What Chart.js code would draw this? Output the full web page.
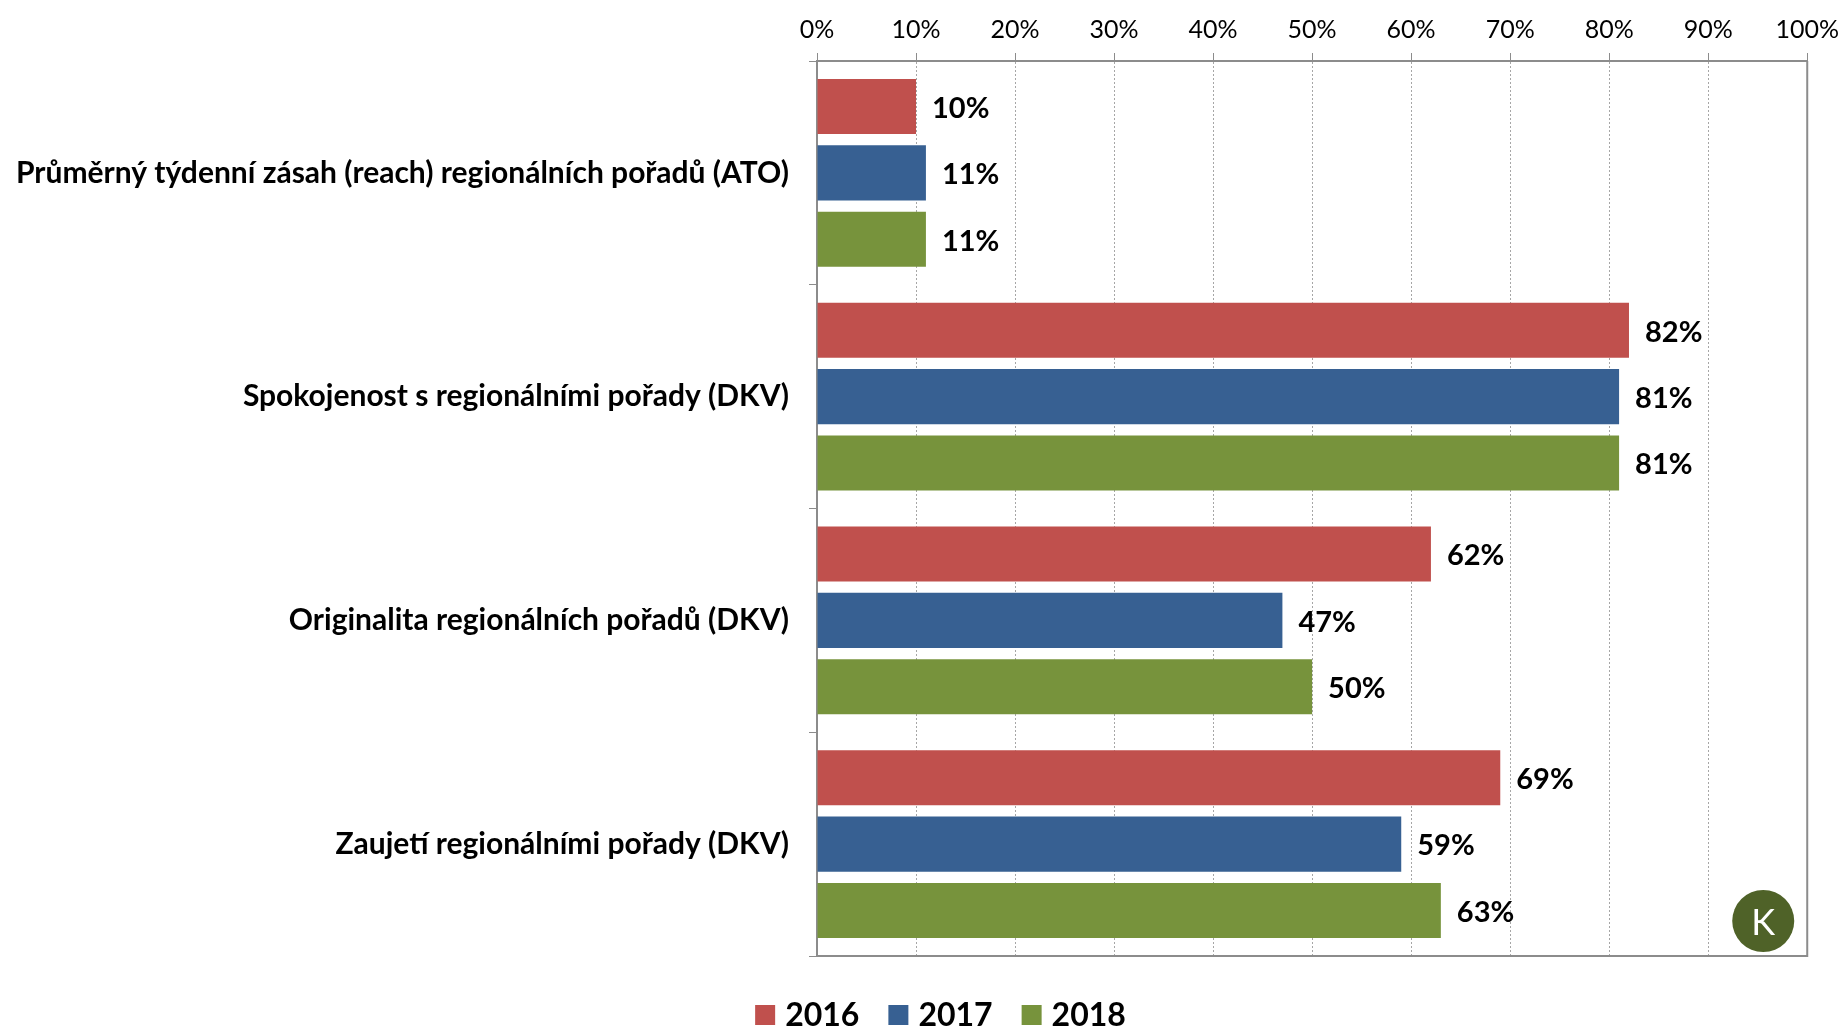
<!DOCTYPE html>
<html>
<head>
<meta charset="utf-8">
<script src="https://cdn.jsdelivr.net/npm/chart.js@4.4.0/dist/chart.umd.min.js"></script>
<style>
  html, body { margin: 0; padding: 0; background: #fff; }
  #wrap { position: relative; width: 1847px; height: 1029px; }
</style>
</head>
<body>
<div id="wrap"><canvas id="chart" width="1847" height="1029"></canvas></div>
<script>
const categories = [
    'Průměrný týdenní zásah (reach) regionálních pořadů (ATO)',
    'Spokojenost s regionálními pořady (DKV)',
    'Originalita regionálních pořadů (DKV)',
    'Zaujetí regionálními pořady (DKV)'
];
const years = ['2016', '2017', '2018'];
const values2016 = [10, 82, 62, 69];
const values2017 = [11, 81, 47, 59];
const values2018 = [11, 81, 50, 63];
const colors = ['#C0504D', '#376092', '#77933C'];
const FONT = 'Lato, "Open Sans", sans-serif';

// labels right of each bar
const valueLabels = {
    id: 'valueLabels',
    afterDatasetsDraw(chart) {
        const ctx = chart.ctx;
        ctx.save();
        ctx.font = `bold 29px ${FONT}`;
        ctx.fillStyle = '#000';
        ctx.textAlign = 'left';
        ctx.textBaseline = 'middle';
        chart.data.datasets.forEach((ds, i) => {
            chart.getDatasetMeta(i).data.forEach((bar, j) => {
                ctx.fillText(ds.data[j] + '%', bar.x + 16, bar.y + 2);
            });
        });
        ctx.restore();
    }
};

// right + bottom frame and the round K badge
const frame = {
    id: 'frame',
    afterDraw(chart) {
        const { ctx, chartArea: a } = chart;
        ctx.save();
        ctx.strokeStyle = '#8c8c8c';
        ctx.lineWidth = 2;
        ctx.beginPath();
        ctx.moveTo(a.right, a.top);
        ctx.lineTo(a.right, a.bottom);
        ctx.lineTo(a.left, a.bottom);
        ctx.stroke();

        const cx = a.right - 44, cy = a.bottom - 35;
        ctx.fillStyle = '#4F6228';
        ctx.beginPath();
        ctx.arc(cx, cy, 31, 0, Math.PI * 2);
        ctx.fill();
        ctx.fillStyle = '#fff';
        ctx.font = `36px ${FONT}`;
        ctx.textAlign = 'center';
        ctx.textBaseline = 'middle';
        ctx.fillText('K', cx, cy + 2);
        ctx.restore();
    }
};

// legend under the plot, boxes close to the text like the original
const bottomLegend = {
    id: 'bottomLegend',
    afterDraw(chart) {
        const ctx = chart.ctx;
        const box = 20, gap = 10, spacing = 29;
        ctx.save();
        ctx.font = `bold 32px ${FONT}`;
        const items = chart.data.datasets.map(ds => ({
            text: ds.label, color: ds.backgroundColor, w: ctx.measureText(ds.label).width
        }));
        const total = items.reduce((s, it) => s + box + gap + it.w, 0) + spacing * (items.length - 1);
        let x = chart.width / 2 + 17 - total / 2;
        const y = chart.chartArea.bottom + 59;
        ctx.textAlign = 'left';
        ctx.textBaseline = 'middle';
        items.forEach(it => {
            ctx.fillStyle = it.color;
            ctx.fillRect(x, y - box / 2, box, box);
            ctx.fillStyle = '#000';
            ctx.fillText(it.text, x + box + gap, y + 1);
            x += box + gap + it.w + spacing;
        });
        ctx.restore();
    }
};

const datasets = [values2016, values2017, values2018].map((vals, i) => ({
    label: years[i],
    data: vals,
    backgroundColor: colors[i],
    borderWidth: 0,
    categoryPercentage: 0.89,
    barPercentage: 0.83
}));

new Chart(document.getElementById('chart'), {
    type: 'bar',
    data: { labels: categories, datasets },
    options: {
        indexAxis: 'y',
        responsive: false,
        animation: false,
        events: [],
        layout: { padding: { left: 0, right: 39, top: 0, bottom: 73 } },
        scales: {
            x: {
                position: 'top',
                min: 0,
                max: 100,
                afterFit: s => { s.height = 61; },
                ticks: {
                    stepSize: 10,
                    callback: v => v + '%',
                    color: '#000',
                    font: { family: FONT, size: 25 },
                    padding: 8
                },
                grid: { color: '#a6a6a6', lineWidth: 1, tickLength: 8, tickColor: '#8c8c8c', tickWidth: 1 },
                border: { color: '#8c8c8c', width: 2, dash: [2, 2] }
            },
            y: {
                afterFit: s => { s.width = 817; },
                ticks: {
                    color: '#000',
                    font: { family: FONT, size: 30, weight: 'bold' },
                    padding: 20
                },
                grid: { drawOnChartArea: false, tickLength: 8, color: '#8c8c8c' },
                border: { color: '#8c8c8c', width: 2 }
            }
        },
        plugins: {
            legend: { display: false },
            tooltip: { enabled: false }
        }
    },
    plugins: [valueLabels, frame, bottomLegend]
});
</script>
</body>
</html>
